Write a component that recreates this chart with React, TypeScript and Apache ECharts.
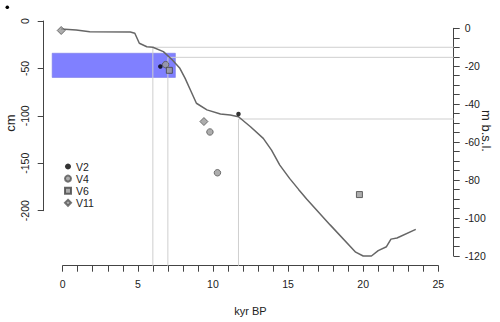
import React, { useEffect, useRef } from "react";
import * as echarts from "echarts";

// Relative sea-level curve (age in kyr BP, level in m below sea level)
const seaLevelAge = [-0.35, 0.9, 1.8, 4.5, 4.8, 5.1, 5.6, 6.0, 6.7, 7.3, 7.8, 8.15, 8.5, 8.9, 9.6, 10.5, 11.15, 11.7, 12.5, 13.35, 13.9, 14.45, 15.1, 15.7, 16.25, 17.8, 19.5, 20.0, 20.55, 21.0, 21.55, 21.85, 22.25, 23.5];
const seaLevel = [-0.3, -0.9, -1.8, -1.95, -2.6, -7.9, -9.7, -10, -12.3, -16.7, -21.1, -26.4, -32.5, -39.5, -43, -45.2, -45.7, -46.6, -51.9, -58, -64.2, -72.1, -79.1, -84.9, -90.1, -103.6, -118, -120, -120, -117.2, -115.1, -111.1, -110.5, -106];

// Dated core samples (age in kyr BP, depth in cm)
const v2Age = [6.5, 11.7];
const v2Depth = [-48, -98];
const v4Age = [6.85, 9.8, 10.3];
const v4Depth = [-46, -117, -160];
const v6Age = [7.1, 19.75];
const v6Depth = [-52, -183];
const v11Age = [-0.1, 9.4];
const v11Depth = [-10, -106];

// Tie points between the cores and the sea-level curve
const tieAge = [6, 7, 11.7];
const tieLevel = [-10, -15.3, -47.8];

// Depth band (age range, depth range in cm)
const bandAge = [-0.7, 7.5];
const bandDepth = [-34, -59.5];

const FONT = "'Liberation Sans', Arial, sans-serif";
const AXIS_COLOR = "#444";
const TEXT_COLOR = "#222";
const X_AXIS_OFFSET = 9.7;
const RIGHT_AXIS_OFFSET = 15.4;

const zip = (a: number[], b: number[]) => a.map((v, i) => [v, b[i]]);

const pointStyle = (color: string, border: string) => ({
  color,
  borderColor: border,
  borderWidth: 1,
});

export default function App() {
  const ref = useRef<HTMLDivElement>(null);

  useEffect(() => {
    const chart = echarts.init(ref.current!, null, { renderer: "svg" });

    const option: any = {
      animation: false,
      backgroundColor: "#fff",
      textStyle: { fontFamily: FONT },
      grid: [
        { left: 62.7, top: 21, width: 375.6, height: 189.7 },
        { left: 62.7, top: 28.3, width: 375.6, height: 227.7 },
      ],
      xAxis: [
        { gridIndex: 0, type: "value", min: 0, max: 25, show: false, axisLine: { onZero: false } },
        {
          gridIndex: 1,
          type: "value",
          min: 0,
          max: 25,
          interval: 5,
          position: "bottom",
          offset: X_AXIS_OFFSET,
          axisLine: { show: true, onZero: false, lineStyle: { color: AXIS_COLOR, width: 1 } },
          axisTick: { show: true, length: 6, lineStyle: { color: AXIS_COLOR } },
          minorTick: { show: true, splitNumber: 5, length: 6, lineStyle: { color: AXIS_COLOR } },
          axisLabel: { margin: 13, fontSize: 10.5, color: TEXT_COLOR, fontFamily: FONT },
          splitLine: { show: false },
          name: "kyr BP",
          nameLocation: "middle",
          nameGap: 40,
          nameTextStyle: { fontSize: 11, color: TEXT_COLOR, fontFamily: FONT },
        },
      ],
      yAxis: [
        {
          gridIndex: 0,
          type: "value",
          min: -200,
          max: 0,
          interval: 50,
          position: "left",
          offset: 19,
          axisLine: { show: true, onZero: false, lineStyle: { color: AXIS_COLOR, width: 1 } },
          axisTick: { show: true, length: 6, lineStyle: { color: AXIS_COLOR } },
          axisLabel: { rotate: 90, margin: 13, fontSize: 10.5, color: TEXT_COLOR, fontFamily: FONT },
          splitLine: { show: false },
        },
        {
          gridIndex: 1,
          type: "value",
          min: -120,
          max: 0,
          interval: 20,
          position: "right",
          offset: RIGHT_AXIS_OFFSET,
          axisLine: { show: true, onZero: false, lineStyle: { color: AXIS_COLOR, width: 1 } },
          axisTick: { show: true, length: 6, lineStyle: { color: AXIS_COLOR } },
          minorTick: { show: true, splitNumber: 4, length: 6, lineStyle: { color: AXIS_COLOR } },
          axisLabel: { margin: 11, fontSize: 10.5, color: TEXT_COLOR, fontFamily: FONT },
          splitLine: { show: false },
        },
      ],
      legend: {
        orient: "vertical",
        left: 59,
        top: 156,
        itemWidth: 6,
        itemHeight: 6,
        itemGap: 1.1,
        textStyle: { fontSize: 10.5, color: TEXT_COLOR, fontFamily: FONT, lineHeight: 11 },
        data: ["V2", "V4", "V6", "V11"],
      },
      series: [
        {
          name: "band",
          type: "custom",
          xAxisIndex: 0,
          yAxisIndex: 0,
          z: 1,
          silent: true,
          data: [[bandAge[0], bandAge[1], bandDepth[0], bandDepth[1]]],
          renderItem: (_params: any, api: any) => {
            const p0 = api.coord([api.value(0), api.value(2)]);
            const p1 = api.coord([api.value(1), api.value(3)]);
            return {
              type: "rect",
              shape: { x: p0[0], y: p0[1], width: p1[0] - p0[0], height: p1[1] - p0[1] },
              style: { fill: "#8080ff", stroke: "#7a7ae6", lineWidth: 0.6 },
            };
          },
        },
        {
          name: "ties",
          type: "custom",
          xAxisIndex: 1,
          yAxisIndex: 1,
          z: 2,
          silent: true,
          encode: { x: 0, y: 1 },
          data: zip(tieAge, tieLevel),
          renderItem: (params: any, api: any) => {
            const p = api.coord([api.value(0), api.value(1)]);
            const cs = params.coordSys;
            const bottom = cs.y + cs.height + X_AXIS_OFFSET;
            const right = cs.x + cs.width + RIGHT_AXIS_OFFSET;
            const style = { stroke: "#cfcfcf", lineWidth: 1 };
            return {
              type: "group",
              children: [
                { type: "line", shape: { x1: p[0], y1: p[1], x2: p[0], y2: bottom }, style },
                { type: "line", shape: { x1: p[0], y1: p[1], x2: right, y2: p[1] }, style },
              ],
            };
          },
        },
        {
          name: "sea level",
          type: "line",
          xAxisIndex: 1,
          yAxisIndex: 1,
          z: 3,
          clip: false,
          symbol: "none",
          silent: true,
          lineStyle: { color: "#666", width: 1.5 },
          data: zip(seaLevelAge, seaLevel),
        },
        {
          name: "V2",
          type: "scatter",
          xAxisIndex: 0,
          yAxisIndex: 0,
          z: 4,
          clip: false,
          symbol: "circle",
          symbolSize: 4.5,
          itemStyle: { color: "#000" },
          data: zip(v2Age, v2Depth),
        },
        {
          name: "V4",
          type: "scatter",
          xAxisIndex: 0,
          yAxisIndex: 0,
          z: 4,
          clip: false,
          symbol: "circle",
          symbolSize: 6.5,
          itemStyle: pointStyle("#999", "#555"),
          data: zip(v4Age, v4Depth),
        },
        {
          name: "V6",
          type: "scatter",
          xAxisIndex: 0,
          yAxisIndex: 0,
          z: 4,
          clip: false,
          symbol: "rect",
          symbolSize: 6,
          itemStyle: pointStyle("#999", "#444"),
          data: zip(v6Age, v6Depth),
        },
        {
          name: "V11",
          type: "scatter",
          xAxisIndex: 0,
          yAxisIndex: 0,
          z: 4,
          clip: false,
          symbol: "diamond",
          symbolSize: 8,
          itemStyle: pointStyle("#999", "#555"),
          data: zip(v11Age, v11Depth),
        },
      ],
      graphic: [
        {
          type: "text",
          x: 10,
          y: 123,
          rotation: Math.PI / 2,
          style: {
            text: "cm",
            fontSize: 13,
            fontFamily: FONT,
            fill: TEXT_COLOR,
            textAlign: "center",
            textVerticalAlign: "middle",
          },
        },
        {
          type: "text",
          x: 486,
          y: 131,
          rotation: -Math.PI / 2,
          style: {
            text: "m b.s.l.",
            fontSize: 13,
            fontFamily: FONT,
            fill: TEXT_COLOR,
            textAlign: "center",
            textVerticalAlign: "middle",
          },
        },
        {
          type: "circle",
          shape: { cx: 7.3, cy: 7.3, r: 1.8 },
          style: { fill: "#000" },
        },
      ],
    };

    chart.setOption(option);
    return () => chart.dispose();
  }, []);

  return (
    <div
      ref={ref}
      style={{ position: "fixed", left: 0, top: 0, width: 500, height: 322 }}
    />
  );
}
